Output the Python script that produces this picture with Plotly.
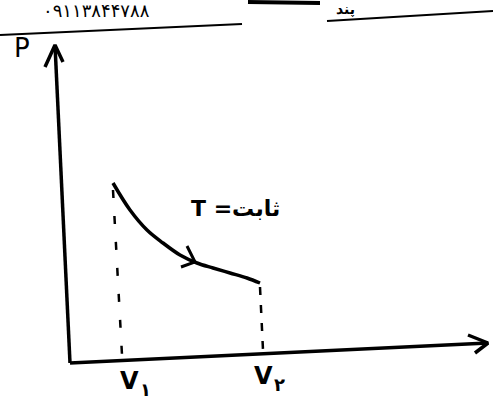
import plotly.graph_objects as go

# Sketch coordinates (canvas units, y grows downward)
# Isothermal curve P(V), read point by point
curve_v = [113, 130, 147, 163, 180, 197, 213, 230, 247, 260]
curve_p = [183, 210, 230, 243, 255, 263, 268, 273, 278, 283]

# Axes: P axis goes up, V axis goes right
p_axis_x = [70, 55]
p_axis_y = [363, 45]
v_axis_x = [70, 488]
v_axis_y = [363, 343]

# Arrow heads (barb, tip, barb)
p_head_x = [45, 55, 63]
p_head_y = [67, 45, 62]
v_head_x = [468, 488, 475]
v_head_y = [335, 343, 353]
curve_head_x = [181, 195, 187]
curve_head_y = [267, 262, 246]

# Dashed guides from curve ends down to the V axis
v1_guide_x = [113, 122]
v1_guide_y = [190, 355]
v2_guide_x = [260, 263]
v2_guide_y = [287, 350]

# Header rules
rule_left_x = [0, 242]
rule_left_y = [35, 24]
rule_right_x = [327, 493]
rule_right_y = [21, 11]
rule_top_x = [248, 320]
rule_top_y = [2, 3]

phone_text = "۰۹۱۱۳۸۴۴۷۸۸"
temp_label = "T =ثابت"
p_label = "P"

INK = "#000000"
FONT = "DejaVu Sans"

fig = go.Figure()


def stroke(xs, ys, width=3.5, dash="solid"):
    fig.add_trace(go.Scatter(
        x=xs, y=ys, mode="lines",
        line=dict(color=INK, width=width, dash=dash, shape="spline" if len(xs) > 3 else "linear"),
        hoverinfo="skip", showlegend=False,
    ))


stroke(p_axis_x, p_axis_y, 3.5)
stroke(v_axis_x, v_axis_y, 3.5)
stroke(p_head_x, p_head_y, 3.5)
stroke(v_head_x, v_head_y, 3.5)
stroke(curve_v, curve_p, 3.5)
stroke(curve_head_x, curve_head_y, 3)
stroke(v1_guide_x, v1_guide_y, 2.5, dash="8px,18px")
stroke(v2_guide_x, v2_guide_y, 2.5, dash="8px,10px")
stroke(rule_left_x, rule_left_y, 2)
stroke(rule_right_x, rule_right_y, 2)
stroke(rule_top_x, rule_top_y, 4)

labels = [
    (phone_text, 96, 10, 18, False),
    ("پند", 345, 9, 14, True),
    (p_label, 22, 48, 26, False),
    (temp_label, 235, 208, 22, True),
    ("V", 129, 381, 24, True),
    ("۱", 145, 389, 18, True),
    ("V", 263, 376, 24, True),
    ("۲", 279, 384, 18, True),
]
for text, x, y, size, bold in labels:
    fig.add_annotation(
        x=x, y=y, text=f"<b>{text}</b>" if bold else text, showarrow=False,
        font=dict(family=FONT, size=size, color=INK),
        xanchor="center", yanchor="middle",
    )

fig.update_layout(
    width=493, height=405,
    margin=dict(l=0, r=0, t=0, b=0),
    paper_bgcolor="white", plot_bgcolor="white",
    xaxis=dict(range=[0, 493], visible=False, fixedrange=True),
    yaxis=dict(range=[405, 0], visible=False, fixedrange=True),
)

fig.write_html("out.html")
